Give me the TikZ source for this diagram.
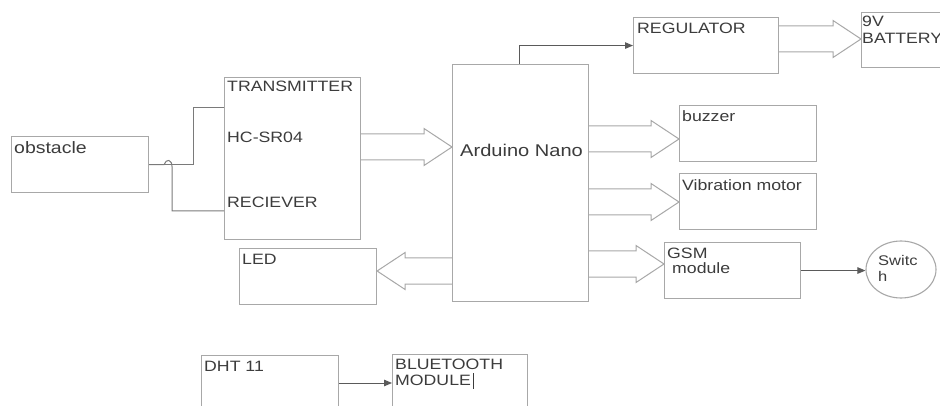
\documentclass[tikz,border=0pt]{standalone}
\usepackage{fontspec}
\usepackage{graphicx}
\setmainfont{Liberation Sans}
\usetikzlibrary{calc,arrows.meta,shapes.geometric}
\definecolor{boxgray}{HTML}{A8A8A8}
\definecolor{txtgray}{HTML}{3C3C3C}
\definecolor{arrgray}{HTML}{5A5A5A}
\definecolor{wiregray}{HTML}{7A7A7A}
\newcommand\st[1]{\scalebox{1.18}[1]{#1}}
\newcommand\fatarrow[2]{%
  \draw[fat] let \p1=#1, \p2=#2, \n1={\x2+28pt*sign(\x1-\x2)} in
    (\x1,\y1+13pt) -- (\n1,\y1+13pt) -- (\n1,\y1+18.5pt) -- (\x2,\y1)
    -- (\n1,\y1-18.5pt) -- (\n1,\y1-13pt) -- (\x1,\y1-13pt);}
\begin{document}
\begin{tikzpicture}[x=1pt,y=-1pt,
  box/.style={draw=boxgray, line width=1.1pt, rectangle, inner sep=0, anchor=north west},
  txt/.style={anchor=north west, inner sep=0, text=txtgray, font=\fontsize{15}{17}\selectfont},
  fat/.style={draw=boxgray, line width=1pt, line join=miter},
  thin/.style={draw=arrgray, line width=1pt, -{Triangle[length=8pt,width=6.5pt]}},
  wire/.style={draw=wiregray, line width=1pt}]
\fill[white] (0,0) rectangle (940,406);
\useasboundingbox (0,0) rectangle (940,406);
% boxes
\node[box,minimum width=137pt,minimum height=56pt] (obs) at (11,136) {};
\node[box,minimum width=136pt,minimum height=162pt] (trans) at (224,77) {};
\node[box,minimum width=136pt,minimum height=237pt] (ard) at (452,64) {};
\node[box,minimum width=145pt,minimum height=56pt] (reg) at (633,17) {};
\node[box,minimum width=100pt,minimum height=55pt] (bat) at (861,12) {};
\node[box,minimum width=137pt,minimum height=56pt] (buz) at (679,105) {};
\node[box,minimum width=137pt,minimum height=56pt] (vib) at (679,173) {};
\node[box,minimum width=136pt,minimum height=56pt] (gsm) at (664,242) {};
\node[box,minimum width=137pt,minimum height=56pt] (led) at (239,248) {};
\node[box,minimum width=137pt,minimum height=65pt] (dht) at (201,355) {};
\node[box,minimum width=135pt,minimum height=66pt] (bt) at (392,354) {};
\node[draw=boxgray, line width=1.1pt, ellipse, minimum width=70pt, minimum height=57pt, inner sep=0] (sw) at (901,269.5) {};
% wires from obstacle
\draw[wire] (obs.east) -| ($(trans.north west)+(-31,31)$) -- ($(trans.north west)+(0,31)$);
\draw[wire] (obs.east) -- ($(obs.east)+(15,0)$) .. controls ($(obs.east)+(17,-6)$) and ($(obs.east)+(23,-6)$) .. ($(obs.east)+(23,3)$) |- ($(trans.north west)+(0,134)$);
% fat arrows
\fatarrow{($(trans.north east)+(0,70)$)}{($(ard.north west)+(0,83)$)}
\fatarrow{($(reg.north east)+(0,22)$)}{($(bat.north west)+(0,27)$)}
\fatarrow{($(ard.north east)+(0,75)$)}{($(buz.north west)+(0,34)$)}
\fatarrow{($(ard.north east)+(0,138)$)}{($(vib.north west)+(0,29)$)}
\fatarrow{($(ard.north east)+(0,200)$)}{($(gsm.north west)+(0,22)$)}
\fatarrow{($(ard.north west)+(0,207)$)}{($(led.north east)+(0,23)$)}
% thin arrows
\draw[thin] ($(ard.north west)+(67,0)$) |- (reg.west);
\draw[thin] (gsm.east) -- (gsm.east -| sw.west);
\coordinate (d1) at ($(dht.north east)+(0,28)$);
\draw[thin] (d1) -- (d1 -| bt.west);
% texts
\node[txt, font=\fontsize{16.5}{18}\selectfont] (tobs) at (14,141) {\st{obstacle}};
\node[txt] (t1) at (227,81) {\st{TRANSMITTER}};
\node[txt] (t2) at (227,132) {\st{HC-SR04}};
\node[txt] (t3) at (227,197) {\st{RECIEVER}};
\node[txt, font=\fontsize{17}{19}\selectfont] (tard) at (460,144) {\st{Arduino Nano}};
\node[txt] (treg) at (637,23) {\st{REGULATOR}};
\node[txt] (tbat1) at (862,16) {\st{9V}};
\node[txt] (tbat2) at (862,33) {\st{BATTERY}};
\node[txt] (tbuz) at (682,110) {\st{buzzer}};
\node[txt] (tvib) at (682,179) {\st{Vibration motor}};
\node[txt] (tgsm1) at (667,248) {\st{GSM}};
\node[txt] (tgsm2) at (672,262) {\st{module}};
\node[txt, font=\fontsize{14}{16}\selectfont] (tsw1) at (878,255) {\st{Switc}};
\node[txt, font=\fontsize{14}{16}\selectfont] (tsw2) at (878,271) {\st{h}};
\node[txt] (tled) at (242,254) {\st{LED}};
\node[txt] (tdht) at (204,361) {\st{DHT 11}};
\node[txt] (tbt1) at (395,359) {\st{BLUETOOTH}};
\node[txt] (tbt2) at (395,375) {\st{MODULE}};
\draw[txtgray, line width=0.8pt] ($(tbt2.north east)+(2,-2)$) -- ++(0,16);
\end{tikzpicture}
\end{document}
